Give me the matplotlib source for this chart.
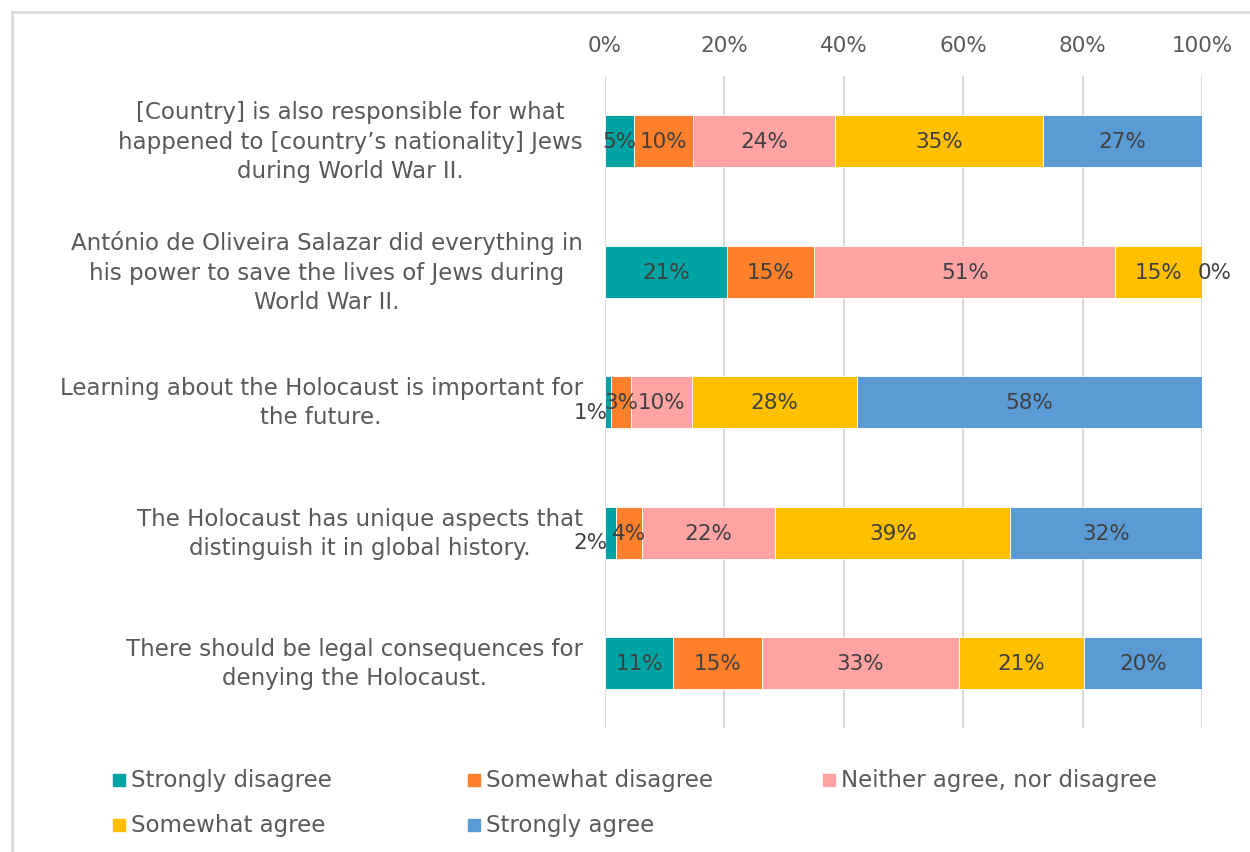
import matplotlib.pyplot as plt
from matplotlib.patches import Rectangle
from matplotlib.lines import Line2D

plt.rcParams["font.family"] = ["DejaVu Sans"]

statements = [
    "[Country] is also responsible for what\nhappened to [country\u2019s nationality] Jews\nduring World War II.",
    "Ant\u00f3nio de Oliveira Salazar did everything in\nhis power to save the lives of Jews during\nWorld War II.",
    "Learning about the Holocaust is important for\nthe future.",
    "The Holocaust has unique aspects that\ndistinguish it in global history.",
    "There should be legal consequences for\ndenying the Holocaust.",
]
answers = [
    "Strongly disagree",
    "Somewhat disagree",
    "Neither agree, nor disagree",
    "Somewhat agree",
    "Strongly agree",
]
colors = ["#00A3A3", "#FE7F2C", "#FFA3A3", "#FFC000", "#5B9BD5"]

# shares per statement, percent
strongly_disagree = [4.9, 20.5, 1.0, 1.8, 11.4]
somewhat_disagree = [9.9, 14.5, 3.4, 4.4, 14.9]
neither = [23.8, 50.5, 10.2, 22.3, 33.0]
somewhat_agree = [34.7, 14.5, 27.6, 39.4, 20.9]
strongly_agree = [26.7, 0.0, 57.8, 32.1, 19.8]
series = [strongly_disagree, somewhat_disagree, neither, somewhat_agree, strongly_agree]

text_grey = "#595959"
label_grey = "#404040"
grid_grey = "#D9D9D9"
FS = 15.5      # numbers
FS_TXT = 16.5  # category and legend text


def pct(v):
    # round half up, like the spreadsheet labels
    return f"{int(v + 0.5)}%"


fig = plt.figure(figsize=(12.5, 8.53), dpi=100)
ax = fig.add_axes([0.484, 0.1448, 0.4776, 0.765])

y = list(range(len(statements)))
left = [0.0] * len(statements)
for k, (vals, col) in enumerate(zip(series, colors)):
    ax.barh(y, vals, left=left, height=0.4, color=col, edgecolor="white",
            linewidth=0.6, zorder=3)
    for i, v in enumerate(vals):
        txt = pct(v)
        if v < 0.5:
            # zero-width segment: label sits just past the bar end
            ax.annotate(txt, (left[i] + v, i), xytext=(-3, 0), textcoords="offset points",
                        ha="left", va="center", fontsize=FS, color=label_grey, zorder=4)
        elif k == 0 and v < 2.5:
            # too narrow to hold the label, push it to the left of the bar
            ax.annotate(txt, (0, i), xytext=(2, -7), textcoords="offset points",
                        ha="right", va="center", fontsize=FS, color=label_grey, zorder=4)
        else:
            ax.text(left[i] + v / 2, i, txt, ha="center", va="center", fontsize=FS,
                    color=label_grey, zorder=4)
    left = [a + b for a, b in zip(left, vals)]

ax.set_xlim(0, 100)
ax.set_ylim(len(statements) - 0.5, -0.5)
ax.set_xticks(range(0, 101, 20))
ax.set_xticklabels([f"{t}%" for t in range(0, 101, 20)])
ax.xaxis.tick_top()
ax.tick_params(axis="x", length=0, pad=15, labelsize=FS, labelcolor=text_grey)
ax.set_yticks(y)
ax.set_yticklabels(statements)
ax.tick_params(axis="y", length=0, pad=16, labelsize=FS_TXT, labelcolor=text_grey)
for lbl in ax.get_yticklabels():
    lbl.set_multialignment("center")
    lbl.set_linespacing(1.35)
    lbl.set_verticalalignment("center")
ax.grid(axis="x", color=grid_grey, linewidth=1.5, zorder=0)
for s in ax.spines.values():
    s.set_visible(False)

# legend laid out in a fixed 3-column grid
W, H = 1250, 853
for i, (name, col) in enumerate(zip(answers, colors)):
    x0 = 113 + (i % 3) * 355
    y0 = 781 + (i // 3) * 45
    fig.patches.append(Rectangle((x0 / W, 1 - (y0 + 6) / H), 12 / W, 12 / H,
                                 transform=fig.transFigure, color=col))
    fig.text((x0 + 18) / W, 1 - y0 / H, name, ha="left", va="center",
             fontsize=FS_TXT, color=text_grey)

# chart frame (cut at right and bottom)
fig.add_artist(Line2D([12 / W, 12 / W], [0, 1 - 13 / H], transform=fig.transFigure,
                      color=grid_grey, linewidth=2))
fig.add_artist(Line2D([12 / W, 1], [1 - 13 / H, 1 - 13 / H], transform=fig.transFigure,
                      color=grid_grey, linewidth=2))

fig.savefig("out.png", dpi=100)
